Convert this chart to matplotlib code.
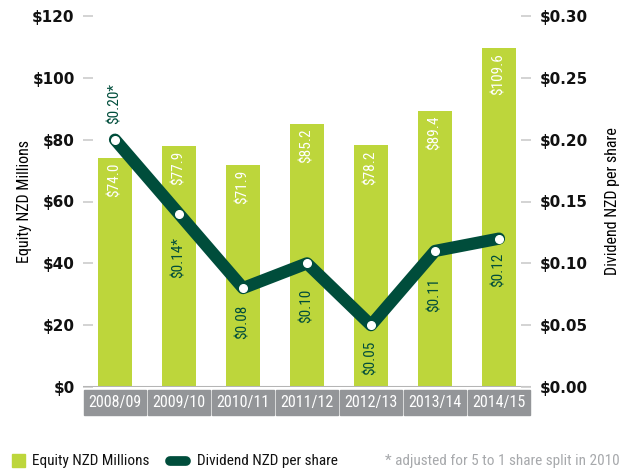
import matplotlib
matplotlib.use("Agg")
import matplotlib.pyplot as plt
import matplotlib.transforms as mtransforms
from matplotlib import font_manager
from matplotlib.patches import Rectangle
from matplotlib.lines import Line2D
from matplotlib.ticker import FuncFormatter

# data
years = ['2008/09', '2009/10', '2010/11', '2011/12', '2012/13', '2013/14', '2014/15']
equity = [74.0, 77.9, 71.9, 85.2, 78.2, 89.4, 109.6]
dividend = [0.20, 0.14, 0.08, 0.10, 0.05, 0.11, 0.12]
div_notes = ['*', '*', '', '', '', '', '']

# colours
GREEN = '#bdd63b'
DARK = '#004d3b'
GREY_BOX = '#939598'
GREY_TXT = '#a7a9ac'

# pick a narrow face if one is around
names = {f.name for f in font_manager.fontManager.ttflist}
narrow = 'DejaVu Sans'
for cand in ['Liberation Sans Narrow', 'Roboto Condensed', 'Open Sans Condensed',
             'Noto Sans Display', 'Roboto']:
    if cand in names:
        narrow = cand
        break
NARROW = dict(family=[narrow, 'DejaVu Sans'], stretch='condensed')

fig = plt.figure(figsize=(6.35, 4.76), dpi=100)
ax = fig.add_axes([83/635, 1-387/476, 448/635, 371/476])
ax2 = ax.twinx()

x = list(range(len(years)))
bars = ax.bar(x, equity, width=0.52, color=GREEN, zorder=2)
ax.set_xlim(-0.5, len(years) - 0.5)
ax.set_ylim(0, 120)
ax2.set_ylim(0, 0.30)

for a in (ax, ax2):
    for s in a.spines.values():
        s.set_visible(False)
ax.axhline(0, color='#b5b5b5', lw=2.2, zorder=3)

ax.set_yticks(range(0, 121, 20))
ax.yaxis.set_major_formatter(FuncFormatter(lambda v, p: '\\$%d' % v))
ax2.set_yticks([0, 0.05, 0.10, 0.15, 0.20, 0.25, 0.30])
ax2.yaxis.set_major_formatter(FuncFormatter(lambda v, p: '\\$%.2f' % v))
ax.tick_params(axis='y', direction='in', length=7.5, width=1.2, color='#cccccc', pad=6)
ax2.tick_params(axis='y', direction='in', length=7.5, width=1.2, color='#cccccc', pad=6)
for lab in ax.get_yticklabels() + ax2.get_yticklabels():
    lab.set_fontfamily('DejaVu Sans')
    lab.set_fontweight('heavy')
    lab.set_fontsize(11)
    lab.set_color('#111111')
ax.set_xticks([])

# grey category boxes under the baseline
trans = mtransforms.blended_transform_factory(ax.transData, ax.transAxes)
gap = 0.016
for i, yr in enumerate(years):
    ax.add_patch(Rectangle((i - 0.5 + gap, -0.0755), 1 - 2 * gap, 0.0675,
                           transform=trans, color=GREY_BOX, clip_on=False))
    ax.text(i, -0.042, yr, transform=trans, ha='center', va='center',
            color='white', fontsize=11.5, **NARROW)

# equity values inside the bars
for b, v in zip(bars, equity):
    ax.annotate('\\$%.1f' % v, (b.get_x() + b.get_width() / 2, v),
                xytext=(0, -3.5), textcoords='offset points',
                rotation=90, ha='center', va='top', color='white',
                fontsize=11, zorder=4, **NARROW)

# dividend line
ax2.plot(x, dividend, color=DARK, lw=8.8, solid_capstyle='round',
         solid_joinstyle='round', zorder=5)
ax2.plot(x, dividend, 'o', color='white', ms=5.5, zorder=6)

label_gap = [-11, 17, 12, 18, 11, 19, 10]
for i, (d, n) in enumerate(zip(dividend, div_notes)):
    off = label_gap[i]
    ax2.annotate('\\$%.2f%s' % (d, n), (i, d), xytext=(0, -off if off > 0 else -off),
                 textcoords='offset points', rotation=90, ha='center',
                 va='top' if off > 0 else 'bottom', color=DARK,
                 fontsize=11, zorder=7, **NARROW)

ax.set_ylabel('Equity NZD Millions', fontsize=11.5, **NARROW)
ax.yaxis.set_label_coords(-0.114, 0.5)
ax2.set_ylabel('Dividend NZD per share', fontsize=11.5, rotation=90, **NARROW)
ax2.yaxis.set_label_coords(1.165, 0.5)

# legend row, laid out by hand
ly = 1 - 461/476
fig.add_artist(Rectangle((12/635, 1 - 467/476), 13/635, 13/476,
                         transform=fig.transFigure, color=GREEN))
fig.text(32/635, ly, 'Equity NZD Millions', ha='left', va='center',
         color='#111111', fontsize=11, **NARROW)
fig.add_artist(Line2D([170/635, 186/635], [ly, ly], transform=fig.transFigure,
                      color=DARK, lw=7, solid_capstyle='round'))
fig.text(197/635, ly, 'Dividend NZD per share', ha='left', va='center',
         color='#111111', fontsize=11, **NARROW)
fig.text(620/635, ly, '* adjusted for 5 to 1 share split in 2010',
         ha='right', va='center', color=GREY_TXT, fontsize=11, **NARROW)

fig.savefig('out.png', dpi=100)
